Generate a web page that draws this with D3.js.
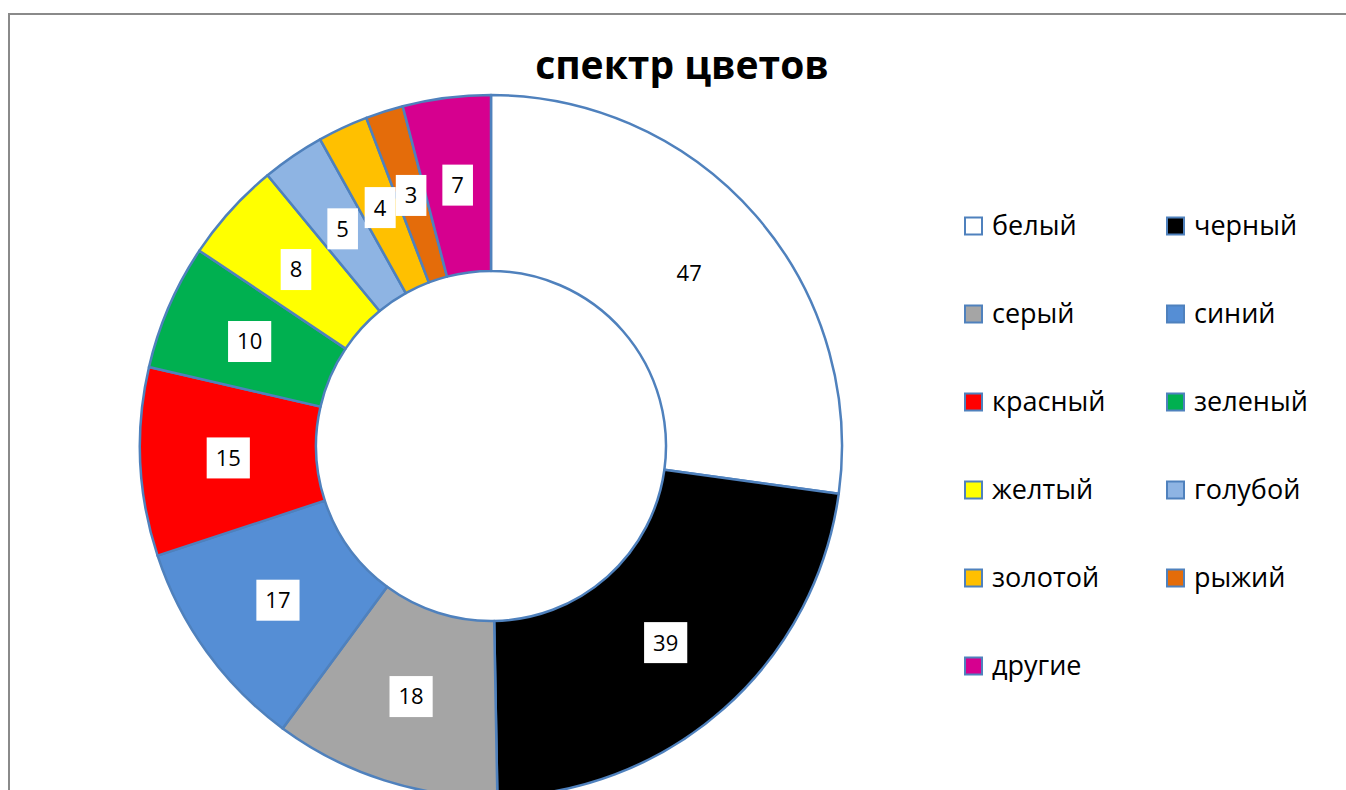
<!DOCTYPE html>
<html>
<head>
<meta charset="utf-8">
<script src="https://cdn.jsdelivr.net/npm/d3@7"></script>
<style>
  body { margin: 0; background: #fff; }
  svg { display: block; font-family: 'Open Sans', 'Noto Sans', sans-serif; }
</style>
</head>
<body>
<script>
// data
const categories = ['белый', 'черный', 'серый', 'синий', 'красный', 'зеленый', 'желтый', 'голубой', 'золотой', 'рыжий', 'другие']
const values = [47, 39, 18, 17, 15, 10, 8, 5, 4, 3, 7]
const colors = ['#FFFFFF', '#000000', '#A5A5A5', '#558ED5', '#FF0000', '#00B050', '#FFFF00', '#8EB4E3', '#FFC000', '#E46C0A', '#D6008F']
const title = 'спектр цветов'

// layout
const width = 1346
const height = 790
const cx = 491
const cy = 446
const outerR = 351
const innerR = 175
const stroke = '#4F81BD'

const dataset = categories.map((c, i) => ({ name: c, value: values[i], color: colors[i] }))

const svg = d3.select('body')
  .append('svg')
  .attr('width', width)
  .attr('height', height)

// chart frame
svg.append('rect')
  .attr('x', 9)
  .attr('y', 14)
  .attr('width', width + 20)
  .attr('height', height + 20)
  .attr('fill', 'none')
  .attr('stroke', '#8a8a8a')
  .attr('stroke-width', 2)

// title
svg.append('text')
  .attr('x', 682)
  .attr('y', 79)
  .attr('text-anchor', 'middle')
  .attr('font-size', 39)
  .attr('font-weight', 'bold')
  .text(title)

// donut
const pie = d3.pie()
  .value(d => d.value)
  .sort(null)

const arc = d3.arc()
  .innerRadius(innerR)
  .outerRadius(outerR)

const main = svg.append('g')
  .attr('transform', `translate(${cx}, ${cy})`)

const arcs = pie(dataset)

main.selectAll('path')
  .data(arcs)
  .enter()
  .append('path')
  .attr('d', arc)
  .attr('fill', d => d.data.color)
  .attr('stroke', stroke)
  .attr('stroke-width', 2.5)
  .attr('stroke-linejoin', 'round')

// data labels with white boxes
const labels = main.selectAll('g.label')
  .data(arcs)
  .enter()
  .append('g')
  .attr('class', 'label')
  .attr('transform', d => `translate(${arc.centroid(d)})`)

labels.append('rect')
  .attr('fill', '#fff')

labels.append('text')
  .attr('text-anchor', 'middle')
  .attr('dy', '0.36em')
  .attr('font-size', 22)
  .attr('fill', '#000')
  .text(d => d.data.value)

labels.each(function () {
  const g = d3.select(this)
  const b = g.select('text').node().getBBox()
  g.select('rect')
    .attr('x', b.x - 9)
    .attr('y', -20.5)
    .attr('width', b.width + 18)
    .attr('height', 41)
})

// legend
const legend = svg.append('g')
const colX = [965, 1167]
const rowY0 = 226
const rowStep = 88

const item = legend.selectAll('g')
  .data(dataset)
  .enter()
  .append('g')
  .attr('transform', (d, i) => `translate(${colX[i % 2]}, ${rowY0 + Math.floor(i / 2) * rowStep})`)

item.append('rect')
  .attr('x', 0)
  .attr('y', -8.5)
  .attr('width', 17)
  .attr('height', 17)
  .attr('fill', d => d.color)
  .attr('stroke', stroke)
  .attr('stroke-width', 2)

item.append('text')
  .attr('x', 27)
  .attr('dy', '0.35em')
  .attr('font-size', 27)
  .attr('fill', '#000')
  .text(d => d.name)
</script>
</body>
</html>
